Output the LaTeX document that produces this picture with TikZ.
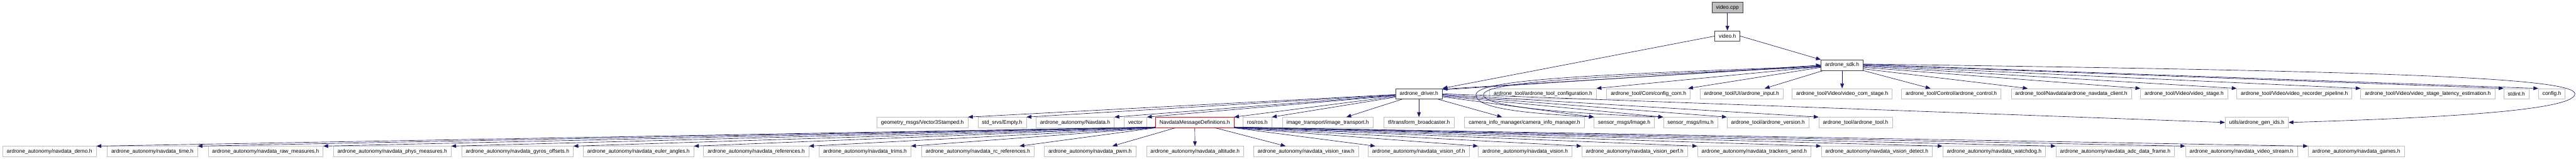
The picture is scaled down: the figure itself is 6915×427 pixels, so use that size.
\documentclass[tikz,border=0pt]{standalone}
\usepackage{fontspec}
\setmainfont{Liberation Sans}
\usetikzlibrary{arrows.meta}
\definecolor{edgeblue}{HTML}{191970}
\definecolor{leafgrey}{HTML}{BFBFBF}
\definecolor{darkframe}{HTML}{404040}

\begin{document}
\begin{tikzpicture}[
  x=1pt, y=-1pt,
  file/.style={rectangle, draw=leafgrey, line width=1pt, minimum height=28pt,
    inner xsep=11pt, inner ysep=0pt, font=\fontsize{14.2}{16}\selectfont},
  local/.style={file, draw=darkframe, line width=1.4pt},
  root/.style={local, fill=leafgrey},
  current/.style={file, draw=red},
  incl/.style={draw=edgeblue, line width=1.1pt, -{Triangle[length=13pt,width=10pt]}}
]
\useasboundingbox (0,0) rectangle (6915,427);

% Top: source file and its headers
\node[root] (videocpp) at (4637,20) {video.cpp};
\node[local] (videoh) at (4637,97) {video.h};
\node[local] (sdk) at (4945,175) {ardrone\_sdk.h};

% Row of ardrone_sdk includes
\node[local] (driver) at (3809,252) {ardrone\_driver.h};
\node[file] (toolconf) at (4142,252) {ardrone\_tool/ardrone\_tool\_configuration.h};
\node[file] (configcom) at (4425,252) {ardrone\_tool/Com/config\_com.h};
\node[file] (uiinput) at (4675,252) {ardrone\_tool/UI/ardrone\_input.h};
\node[file] (comstage) at (4945,252) {ardrone\_tool/Video/video\_com\_stage.h};
\node[file] (control) at (5238,252) {ardrone\_tool/Control/ardrone\_control.h};
\node[file] (navclient) at (5560,252) {ardrone\_tool/Navdata/ardrone\_navdata\_client.h};
\node[file] (vidstage) at (5863,252) {ardrone\_tool/Video/video\_stage.h};
\node[file] (recorder) at (6159,252) {ardrone\_tool/Video/video\_recorder\_pipeline.h};
\node[file] (latency) at (6517,252) {ardrone\_tool/Video/video\_stage\_latency\_estimation.h};
\node[file] (stdint) at (6755,252) {stdint.h};
\node[file] (config) at (6850,252) {config.h};

% Row of ardrone_driver includes
\node[file] (vecstamped) at (2476,329) {geometry\_msgs/Vector3Stamped.h};
\node[file] (empty) at (2690,329) {std\_srvs/Empty.h};
\node[file] (navdata) at (2886,329) {ardrone\_autonomy/Navdata.h};
\node[file] (vector) at (3048,329) {vector};
\node[current] (msgdefs) at (3207,329) {NavdataMessageDefinitions.h};
\node[file] (ros) at (3375,329) {ros/ros.h};
\node[file] (imgtransport) at (3564,329) {image\_transport/image\_transport.h};
\node[file] (tfbroad) at (3809,329) {tf/transform\_broadcaster.h};
\node[file] (caminfo) at (4092,329) {camera\_info\_manager/camera\_info\_manager.h};
\node[file] (image) at (4360,329) {sensor\_msgs/Image.h};
\node[file] (imu) at (4538,329) {sensor\_msgs/Imu.h};
\node[file] (version) at (4746,329) {ardrone\_tool/ardrone\_version.h};
\node[file] (tool) at (4981,329) {ardrone\_tool/ardrone\_tool.h};
\node[file] (genids) at (6058,329) {utils/ardrone\_gen\_ids.h};

% Bottom row: navdata option headers
\node[file] (demo) at (133,407) {ardrone\_autonomy/navdata\_demo.h};
\node[file] (time) at (409,407) {ardrone\_autonomy/navdata\_time.h};
\node[file] (rawmeas) at (713,407) {ardrone\_autonomy/navdata\_raw\_measures.h};
\node[file] (physmeas) at (1053,407) {ardrone\_autonomy/navdata\_phys\_measures.h};
\node[file] (gyros) at (1389,407) {ardrone\_autonomy/navdata\_gyros\_offsets.h};
\node[file] (euler) at (1714,407) {ardrone\_autonomy/navdata\_euler\_angles.h};
\node[file] (references) at (2030,407) {ardrone\_autonomy/navdata\_references.h};
\node[file] (trims) at (2322,407) {ardrone\_autonomy/navdata\_trims.h};
\node[file] (rcref) at (2625,407) {ardrone\_autonomy/navdata\_rc\_references.h};
\node[file] (pwm) at (2926,407) {ardrone\_autonomy/navdata\_pwm.h};
\node[file] (altitude) at (3208,407) {ardrone\_autonomy/navdata\_altitude.h};
\node[file] (visionraw) at (3506,407) {ardrone\_autonomy/navdata\_vision\_raw.h};
\node[file] (visionof) at (3808,407) {ardrone\_autonomy/navdata\_vision\_of.h};
\node[file] (vision) at (4094,407) {ardrone\_autonomy/navdata\_vision.h};
\node[file] (visionperf) at (4388,407) {ardrone\_autonomy/navdata\_vision\_perf.h};
\node[file] (trackers) at (4709,407) {ardrone\_autonomy/navdata\_trackers\_send.h};
\node[file] (visiondetect) at (5038,407) {ardrone\_autonomy/navdata\_vision\_detect.h};
\node[file] (watchdog) at (5353,407) {ardrone\_autonomy/navdata\_watchdog.h};
\node[file] (adcframe) at (5678,407) {ardrone\_autonomy/navdata\_adc\_data\_frame.h};
\node[file] (videostream) at (6017,407) {ardrone\_autonomy/navdata\_video\_stream.h};
\node[file] (games) at (6325,407) {ardrone\_autonomy/navdata\_games.h};

% video.cpp and video.h
\draw[incl] (videocpp) -- (videoh);
\draw[incl] (videoh.west) -- (driver.north east);
\draw[incl] (videoh.east) -- (sdk.north west);

% ardrone_sdk.h <-> ardrone_driver.h
\draw[incl] ([yshift=-4pt]driver.north east) -- (sdk.west);
\draw[incl] ([yshift=-2pt]sdk.west) -- ([yshift=-2pt]driver.north east);

% ardrone_sdk.h
\draw[incl] ([yshift=-4pt]sdk.west) -- (toolconf.north east);
\draw[incl] ([yshift=-6pt]sdk.west) -- ([xshift=-6pt]configcom.north east);
\draw[incl] ([xshift=6pt]sdk.south west) -- ([xshift=-50pt]uiinput.north east);
\draw[incl] (sdk) -- (comstage);
\draw[incl] (sdk.south east) -- ([xshift=78pt]control.north west);
\draw[incl] ([yshift=-10pt]sdk.east) -- ([xshift=45pt]navclient.north west);
\draw[incl] ([yshift=-6pt]sdk.east) -- (vidstage.north west);
\draw[incl] ([yshift=-3pt]sdk.east) -- (recorder.north west);
\draw[incl] ([yshift=-1pt]sdk.east) -- (latency.north west);
\draw[incl] ([yshift=1pt]sdk.east) -- (stdint.north west);
\draw[incl] ([yshift=2pt]sdk.east) -- (config.north west);
\draw[incl] ([yshift=3pt]sdk.east) .. controls (6300,190) and (6912,205) .. (6912,252)
  .. controls (6912,300) and (6500,318) .. (genids.east);
\draw[incl] ([yshift=-3pt]sdk.west) .. controls (4300,200) and (3962,212) .. (3962,255)
  .. controls (3962,295) and (4120,305) .. (image.north west);
\draw[incl] ([yshift=-5pt]sdk.west) .. controls (4300,205) and (3982,218) .. (3982,255)
  .. controls (3982,290) and (4250,306) .. (imu.north west);

% ardrone_driver.h
\draw[incl] ([yshift=-2pt]driver.west) -- (vecstamped.north east);
\draw[incl] ([yshift=-3pt]driver.west) -- (empty.north east);
\draw[incl] ([yshift=-4pt]driver.west) -- (navdata.north east);
\draw[incl] ([yshift=-5pt]driver.west) -- (vector.north east);
\draw[incl] ([yshift=-7pt]driver.west) -- (msgdefs.north east);
\draw[incl] ([yshift=-9pt]driver.west) -- (ros.north east);
\draw[incl] ([xshift=18pt]driver.south west) -- ([xshift=50pt]imgtransport.north);
\draw[incl] (driver) -- (tfbroad);
\draw[incl] ([xshift=-12pt]driver.south east) -- ([xshift=-60pt]caminfo.north);
\draw[incl] ([yshift=-8pt]driver.east) -- (image.north west);
\draw[incl] ([yshift=-6pt]driver.east) -- (imu.north west);
\draw[incl] ([yshift=-4pt]driver.east) -- (version.north west);
\draw[incl] ([yshift=-2pt]driver.east) -- (tool.north west);
\draw[incl] (driver.east) -- (genids.west);

% NavdataMessageDefinitions.h
\draw[incl] ([yshift=2pt]msgdefs.south west) -- (demo.north east);
\draw[incl] ([yshift=2pt]msgdefs.south west) -- (time.north east);
\draw[incl] ([yshift=2pt]msgdefs.south west) -- (rawmeas.north east);
\draw[incl] ([yshift=2pt]msgdefs.south west) -- (physmeas.north east);
\draw[incl] ([yshift=1pt]msgdefs.south west) -- (gyros.north east);
\draw[incl] ([yshift=1pt]msgdefs.south west) -- (euler.north east);
\draw[incl] (msgdefs.south west) -- (references.north east);
\draw[incl] (msgdefs.south west) -- (trims.north east);
\draw[incl] (msgdefs.south west) -- ([xshift=-40pt]rcref.north east);
\draw[incl] ([xshift=-52pt]msgdefs.south) -- ([xshift=60pt]pwm.north);
\draw[incl] (msgdefs) -- (altitude);
\draw[incl] ([xshift=55pt]msgdefs.south) -- ([xshift=-55pt]visionraw.north);
\draw[incl] (msgdefs.south east) -- ([xshift=20pt]visionof.north west);
\draw[incl] (msgdefs.south east) -- (vision.north west);
\draw[incl] (msgdefs.south east) -- (visionperf.north west);
\draw[incl] ([yshift=1pt]msgdefs.south east) -- (trackers.north west);
\draw[incl] ([yshift=1pt]msgdefs.south east) -- (visiondetect.north west);
\draw[incl] ([yshift=2pt]msgdefs.south east) -- (watchdog.north west);
\draw[incl] ([yshift=2pt]msgdefs.south east) -- (adcframe.north west);
\draw[incl] ([yshift=2pt]msgdefs.south east) -- (videostream.north west);
\draw[incl] ([yshift=2pt]msgdefs.south east) -- (games.north west);
\end{tikzpicture}
\end{document}
